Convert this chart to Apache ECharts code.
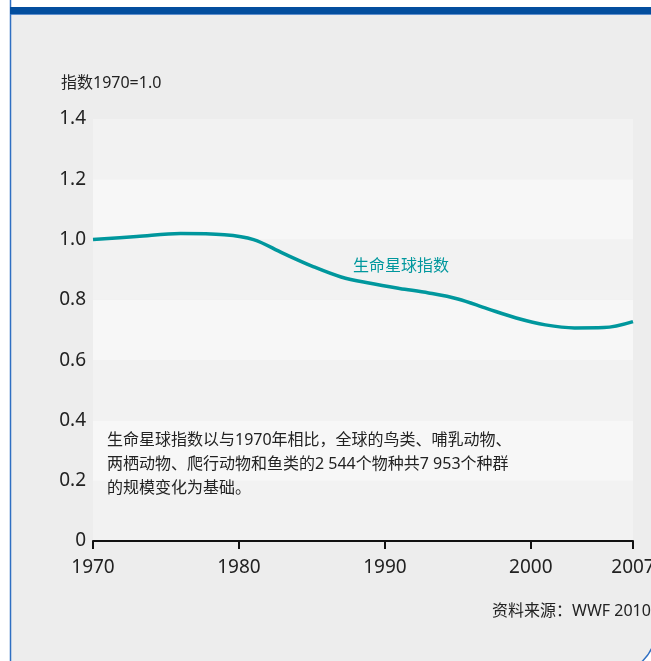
<!DOCTYPE html>
<html>
<head>
<meta charset="utf-8">
<script src="https://cdn.jsdelivr.net/npm/echarts@6/dist/echarts.min.js"></script>
<style>
html,body{margin:0;padding:0;background:#ffffff;}
#chart{width:651px;height:661px;}
</style>
</head>
<body>
<div id="chart"></div>
<script>
// ---- data ----
const years = [1970, 1973, 1976, 1979, 1981, 1983, 1985, 1987, 1989, 1991, 1993, 1995, 1997, 1999, 2001, 2003, 2005, 2007];
const lpiValues = [1.00, 1.01, 1.02, 1.016, 1.00, 0.955, 0.912, 0.876, 0.855, 0.838, 0.823, 0.803, 0.771, 0.740, 0.717, 0.707, 0.708, 0.728];
const xTicks = [1970, 1980, 1990, 2000, 2007];
const seriesName = '生命星球指数';
const yTitle = '指数1970=1.0';
const noteLines = [
  '生命星球指数以与1970年相比，全球的鸟类、哺乳动物、',
  '两栖动物、爬行动物和鱼类的2 544个物种共7 953个种群',
  '的规模变化为基础。'
];
const sourceText = '资料来源：WWF 2010';

const FONT = "'Noto Sans', 'Noto Sans CJK SC', sans-serif";
const TEAL = '#00979d';

const chart = echarts.init(document.getElementById('chart'), null, {renderer: 'canvas'});
const option = {
  backgroundColor: '#ffffff',
  animation: false,
  grid: {left: 93, right: 18, top: 119, bottom: 120, containLabel: false, outerBoundsMode: 'none'},
  xAxis: {
    type: 'value', min: 1970, max: 2007,
    axisLine: {show: true, lineStyle: {color: '#111', width: 2}},
    axisTick: {show: true, customValues: xTicks, length: 8, lineStyle: {color: '#111', width: 2}},
    axisLabel: {show: true, customValues: xTicks, margin: 17, fontSize: 19, color: '#222', fontFamily: FONT,
      hideOverlap: false, formatter: v => String(v)},
    splitLine: {show: false}
  },
  yAxis: {
    type: 'value', min: 0, max: 1.4, interval: 0.2,
    axisLine: {show: false}, axisTick: {show: false},
    axisLabel: {margin: 7, fontSize: 19, color: '#222', fontFamily: FONT,
      formatter: v => v === 0 ? '0' : v.toFixed(1)},
    splitLine: {show: false},
    splitArea: {show: true, areaStyle: {color: ['#f2f2f2', '#f7f7f7']}}
  },
  series: [{
    name: seriesName, type: 'line', smooth: 0.35, symbol: 'none',
    data: years.map((y, i) => [y, lpiValues[i]]),
    lineStyle: {color: TEAL, width: 3.5},
    z: 5
  }],
  graphic: [
    {type: 'rect', z: -100, shape: {x: 10.5, y: 14, width: 644.5, height: 658, r: [0, 0, 40, 0]},
      style: {fill: '#ededed', stroke: '#2f6fc2', lineWidth: 1.5}},
    {type: 'line', z: -99, shape: {x1: 10.5, y1: 0, x2: 10.5, y2: 14}, style: {stroke: '#2f6fc2', lineWidth: 1.5}},
    {type: 'rect', z: -98, shape: {x: 10, y: 7, width: 641, height: 7}, style: {fill: '#034e9e'}},
    {type: 'text', z: 100, x: 61, y: 83, style: {text: yTitle, fill: '#222', font: '16px ' + FONT, verticalAlign: 'middle'}},
    {type: 'text', z: 100, x: 353, y: 266, style: {text: seriesName, fill: TEAL, font: '16px ' + FONT, verticalAlign: 'middle'}},
    {type: 'text', z: 100, x: 107, y: 440, style: {text: noteLines[0], fill: '#222', font: '16px ' + FONT, verticalAlign: 'middle'}},
    {type: 'text', z: 100, x: 107, y: 464, style: {text: noteLines[1], fill: '#222', font: '16px ' + FONT, verticalAlign: 'middle'}},
    {type: 'text', z: 100, x: 107, y: 488, style: {text: noteLines[2], fill: '#222', font: '16px ' + FONT, verticalAlign: 'middle'}},
    {type: 'text', z: 100, x: 492, y: 611, style: {text: sourceText, fill: '#222', font: '16px ' + FONT, verticalAlign: 'middle'}}
  ]
};
chart.setOption(option);
</script>
</body>
</html>
